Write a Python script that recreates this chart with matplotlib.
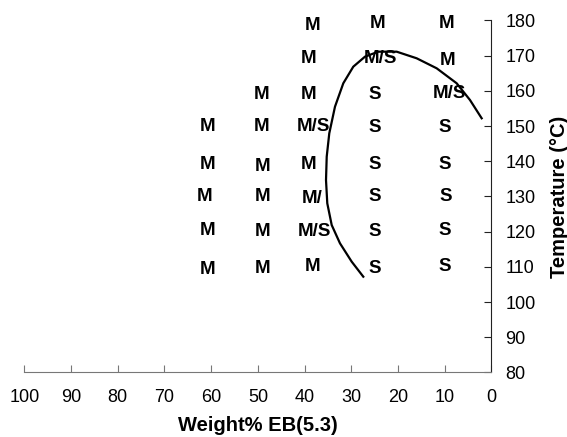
import matplotlib
matplotlib.use('Agg')
import matplotlib.pyplot as plt

plt.rcParams['font.family'] = ['Liberation Sans', 'DejaVu Sans']

# observed phase at each composition / temperature
wt_eb = [38.2, 24.4, 9.7,
         39.2, 23.8, 9.3,
         49.3, 39.2, 24.9, 8.9,
         60.7, 49.3, 38.2, 24.9, 9.9,
         60.7, 48.9, 39.2, 24.9, 9.9,
         61.4, 48.9, 38.4, 24.9, 9.7,
         60.7, 48.9, 37.8, 24.9, 9.9,
         60.7, 48.9, 38.2, 24.9, 9.9]
temps = [179.0, 179.6, 179.6,
         169.6, 169.6, 169.1,
         159.4, 159.4, 159.4, 159.7,
         150.3, 150.3, 150.3, 150.0, 150.0,
         139.5, 138.9, 139.5, 139.5, 139.5,
         130.4, 130.4, 129.9, 130.4, 130.4,
         120.8, 120.5, 120.5, 120.5, 120.8,
         109.7, 110.0, 110.5, 110.0, 110.5]
phases = ['M', 'M', 'M',
          'M', 'M/S', 'M',
          'M', 'M', 'S', 'M/S',
          'M', 'M', 'M/S', 'S', 'S',
          'M', 'M', 'M', 'S', 'S',
          'M', 'M', 'M/', 'S', 'S',
          'M', 'M', 'M/S', 'S', 'S',
          'M', 'M', 'M', 'S', 'S']

# boundary curve
curve_x = [27.44, 29.92, 32.43, 34.20, 35.15, 35.42, 35.27, 34.72, 33.50, 31.72,
           29.58, 27.08, 24.23, 20.29, 16.01, 11.73, 7.45, 4.60, 2.10]
curve_y = [107.22, 111.48, 116.70, 121.88, 128.07, 134.66, 141.31, 147.95, 155.51,
           162.16, 166.88, 169.72, 171.14, 171.14, 169.26, 166.42, 162.16, 157.41, 152.22]

fig = plt.figure(figsize=(5.67, 4.37), dpi=100)
ax = fig.add_axes([0.0429, 0.1476, 0.8239, 0.8055])

for x, y, s in zip(wt_eb, temps, phases):
    ax.text(x, y - 0.4, s, ha='center', va='center', fontsize=13.5,
            fontweight='bold', color='black')

ax.plot(curve_x, curve_y, color='black', lw=1.6, solid_joinstyle='round')

ax.set_xlim(100, 0)
ax.set_ylim(80, 180)
ax.set_xticks(range(100, -1, -10))
ax.set_yticks(range(80, 181, 10))

ax.spines['top'].set_visible(False)
ax.spines['left'].set_visible(False)
ax.spines['bottom'].set_color('#777777')
ax.spines['right'].set_color('#222222')
ax.yaxis.tick_right()
ax.yaxis.set_label_position('right')
ax.tick_params(axis='x', direction='in', length=5, color='#777777',
               labelsize=13, pad=12)
ax.tick_params(axis='y', direction='in', length=5, color='#222222',
               labelsize=13, pad=10)

ax.set_xlabel('Weight% EB(5.3)', fontsize=14.5, fontweight='bold', labelpad=7)
ax.set_ylabel('Temperature (°C)', fontsize=14.5, fontweight='bold', labelpad=10)

fig.savefig('out.png', dpi=100)
